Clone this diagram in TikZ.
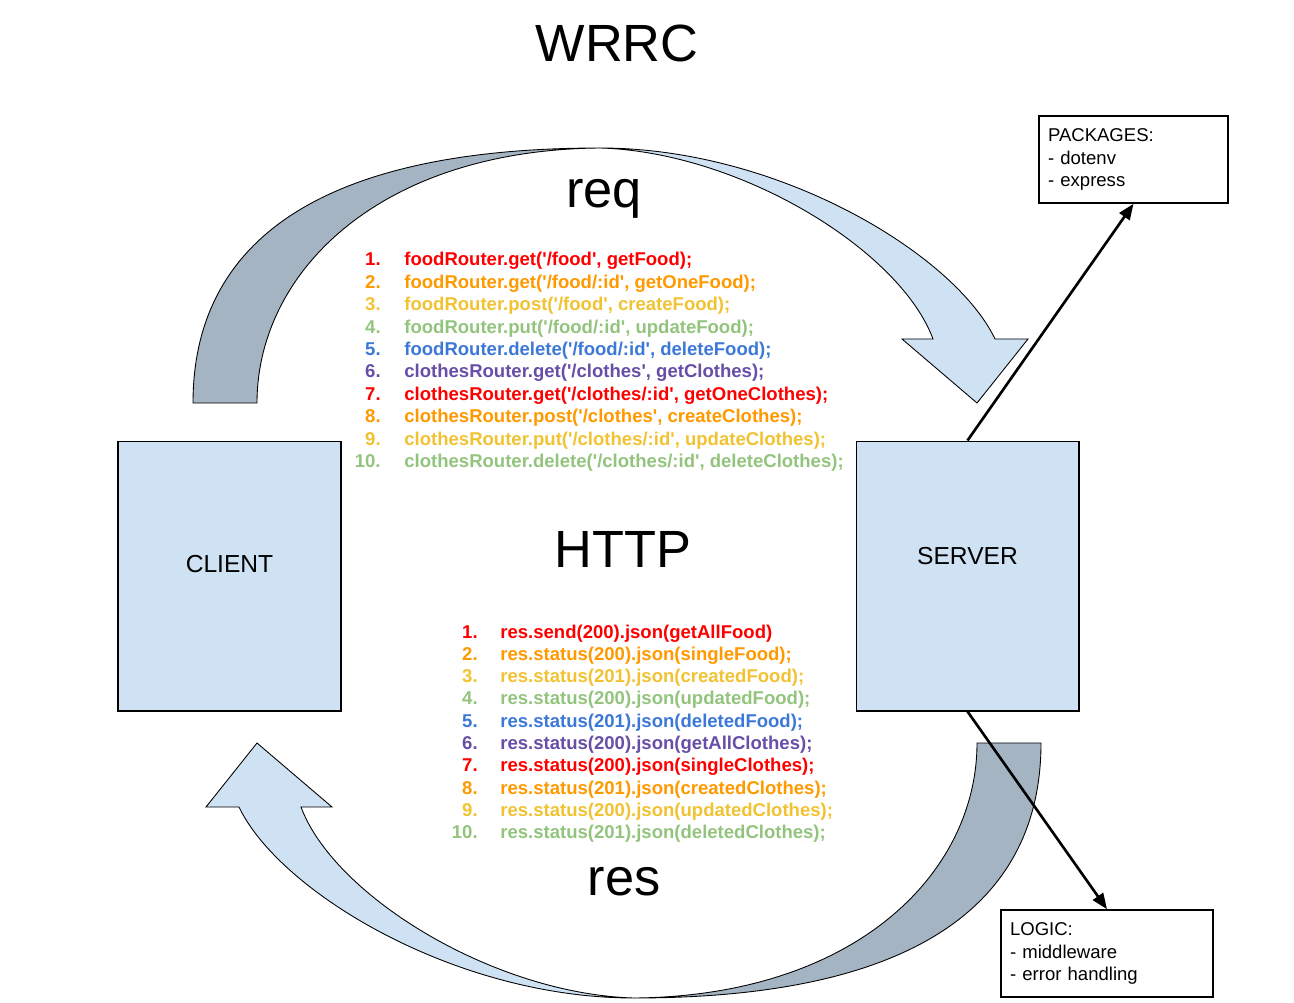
\documentclass[tikz,border=0pt]{standalone}
\usepackage{fontspec}
\setmainfont{Liberation Sans}
\usetikzlibrary{arrows.meta}

\definecolor{boxblue}{HTML}{CFE2F3}
\definecolor{backblue}{HTML}{A5B4C3}
\definecolor{gred}{HTML}{FF0000}
\definecolor{gorange}{HTML}{FF9900}
\definecolor{gyellow}{HTML}{F1C232}
\definecolor{ggreen}{HTML}{93C47D}
\definecolor{gblue}{HTML}{3C78D8}
\definecolor{gpurple}{HTML}{674EA7}

\newcommand{\qt}{\textquotesingle}
% curved arrow: tail bottom left, head pointing down on the right
\newcommand{\curvedarrow}{%
\filldraw[fill=backblue, line width=0.5pt] (193,403) .. controls (193,263) and (289,148) .. (600,148)
  .. controls (377,150) and (257,274) .. (257,403) -- cycle;
\filldraw[fill=boxblue, line width=0.5pt] (600,148) .. controls (780,148) and (955,255) .. (995,339)
  -- (1028,339) -- (977,403) -- (902,339) -- (933,339)
  .. controls (900,250) and (740,152) .. (600,148) -- cycle;
}

\begin{document}
\begin{tikzpicture}[x=0.02cm, y=-0.02cm,
box/.style={draw, fill=boxblue, line width=0.6pt, minimum width=4.46cm, minimum height=5.4cm},
note/.style={draw, line width=0.9pt, align=left, inner xsep=0.18cm, minimum height=1.74cm, font=\fontsize{10.55}{13}\selectfont},
big/.style={anchor=base, inner sep=0, font=\fontsize{29.8}{36}\selectfont},
code/.style={inner sep=0, font=\fontsize{10.55}{12.7}\selectfont\bfseries},
conn/.style={line width=1.5pt, -{Triangle[length=9pt, width=7pt]}}]
\useasboundingbox (0,0) rectangle (1294,1003);

\curvedarrow
\begin{scope}[rotate around={180:(617,573)}]
\curvedarrow
\end{scope}

\node[box] (client) at (229.5,576) {};
\node[box] (server) at (967.5,576) {};
\node[font=\fontsize{14}{17}\selectfont] (clientlbl) at ([yshift=0.24cm]client.center) {CLIENT};
\node[font=\fontsize{14}{17}\selectfont] (serverlbl) at ([yshift=0.4cm]server.center) {SERVER};

\node[note, text width=3.42cm] (pkgs) at (1133.5,159.5) {PACKAGES:\\- dotenv\\- express};
\node[note, text width=3.88cm] (logic) at (1107,953.5) {LOGIC:\\- middleware\\- error handling};

\node[big] (title) at (617,62) {WRRC};
\node[big] (req) at (604,208) {req};
\node[big] (http) at (623,567) {HTTP};
\node[big] (res) at (624,895) {res};

% routes
\foreach \i/\col/\txt [evaluate=\i as \yy using 266+22.4*(\i-1)] in {
  1/gred/{foodRouter.get(\qt/food\qt, getFood);},
  2/gorange/{foodRouter.get(\qt/food/:id\qt, getOneFood);},
  3/gyellow/{foodRouter.post(\qt/food\qt, createFood);},
  4/ggreen/{foodRouter.put(\qt/food/:id\qt, updateFood);},
  5/gblue/{foodRouter.delete(\qt/food/:id\qt, deleteFood);},
  6/gpurple/{clothesRouter.get(\qt/clothes\qt, getClothes);},
  7/gred/{clothesRouter.get(\qt/clothes/:id\qt, getOneClothes);},
  8/gorange/{clothesRouter.post(\qt/clothes\qt, createClothes);},
  9/gyellow/{clothesRouter.put(\qt/clothes/:id\qt, updateClothes);},
  10/ggreen/{clothesRouter.delete(\qt/clothes/:id\qt, deleteClothes);}}
{
  \node[code, anchor=base east, text=\col] (qn\i) at (381,\yy) {\i.};
  \node[code, anchor=base west, text=\col] (q\i) at (404,\yy) {\txt};
}

% responses
\foreach \i/\col/\txt [evaluate=\i as \yy using 638+22.33*(\i-1)] in {
  1/gred/{res.send(200).json(getAllFood)},
  2/gorange/{res.status(200).json(singleFood);},
  3/gyellow/{res.status(201).json(createdFood);},
  4/ggreen/{res.status(200).json(updatedFood);},
  5/gblue/{res.status(201).json(deletedFood);},
  6/gpurple/{res.status(200).json(getAllClothes);},
  7/gred/{res.status(200).json(singleClothes);},
  8/gorange/{res.status(201).json(createdClothes);},
  9/gyellow/{res.status(200).json(updatedClothes);},
  10/ggreen/{res.status(201).json(deletedClothes);}}
{
  \node[code, anchor=base east, text=\col] (sn\i) at (478,\yy) {\i.};
  \node[code, anchor=base west, text=\col] (s\i) at (500,\yy) {\txt};
}

\draw[conn] (server.north) -- (pkgs.south);
\draw[conn] (server.south) -- (logic.north);
\end{tikzpicture}
\end{document}
